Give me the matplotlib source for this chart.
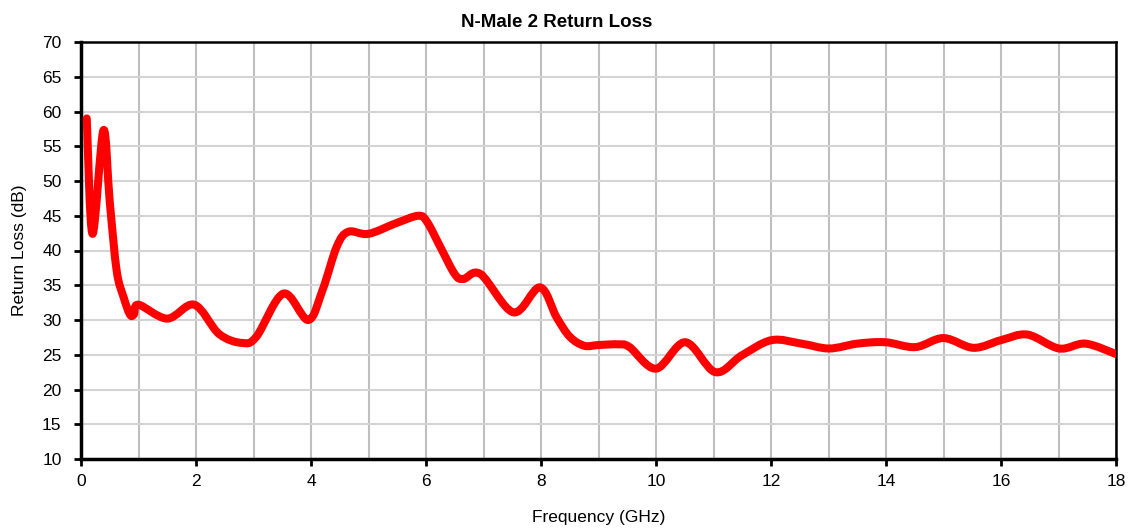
#!/usr/bin/env python3
"""Return loss plot for the N-Male 2 adapter."""

import matplotlib
matplotlib.use('Agg')
import matplotlib.pyplot as plt
from matplotlib.path import Path
from matplotlib.patches import PathPatch
import numpy as np

freq_ghz = [0.1, 0.2, 0.39, 0.5, 0.62, 0.74, 0.85, 0.92, 1.0,
            1.5, 1.97, 2.4, 2.8, 3.05, 3.52, 3.95, 4.2, 4.45, 4.65,
            5.0, 5.5, 5.87, 6.02, 6.25, 6.5, 6.65, 6.95, 7.52, 7.98,
            8.27, 8.5, 8.75, 9.0, 9.35, 9.54, 10.0, 10.51, 11.03, 11.49,
            12.01, 12.53, 13.01, 13.5, 13.99, 14.51, 15.0, 15.52, 16.0, 16.46,
            17.01, 17.47, 18.0]
return_loss_db = [59.0, 42.4, 57.3, 47.0, 37.1, 33.3, 30.8, 30.8, 32.2,
                  30.2, 32.2, 28.0, 26.7, 27.6, 33.8, 30.0, 34.3, 40.6, 42.7,
                  42.4, 44.0, 45.0, 44.1, 40.5, 36.6, 35.9, 36.6, 31.1, 34.7,
                  30.4, 27.6, 26.3, 26.4, 26.5, 26.1, 23.0, 26.8, 22.5, 24.9,
                  27.1, 26.6, 25.9, 26.6, 26.8, 26.1, 27.4, 26.0, 27.1, 27.9,
                  25.9, 26.6, 25.1]

x_ticks = [0, 2, 4, 6, 8, 10, 12, 14, 16, 18]
y_ticks = [10, 15, 20, 25, 30, 35, 40, 45, 50, 55, 60, 65, 70]


def smooth_path(xs, ys):
    """Excel style smoothed line: bezier segments through every point."""
    pts = np.column_stack([xs, ys])
    n = len(pts)
    verts = [pts[0]]
    codes = [Path.MOVETO]
    for i in range(n - 1):
        p0 = pts[max(i - 1, 0)]
        p1 = pts[i]
        p2 = pts[i + 1]
        p3 = pts[min(i + 2, n - 1)]
        verts += [p1 + (p2 - p0) / 6, p2 - (p3 - p1) / 6, p2]
        codes += [Path.CURVE4] * 3
    return Path(verts, codes)


plt.rcParams['font.family'] = ['Liberation Sans', 'DejaVu Sans']

fig = plt.figure(figsize=(11.3, 5.29), dpi=100)
ax = fig.add_axes([81 / 1130, 1 - 459 / 529, 1035 / 1130, 417 / 529])

curve = PathPatch(smooth_path(freq_ghz, return_loss_db), facecolor='none',
                  edgecolor='#ff0000', linewidth=5.8, joinstyle='round',
                  capstyle='round', transform=ax.transData, zorder=3)
ax.add_patch(curve)

ax.set_xlim(0, 18)
ax.set_ylim(10, 70)
ax.set_xticks(x_ticks)
ax.set_xticks(np.arange(0, 19, 1), minor=True)
ax.set_yticks(y_ticks)

ax.grid(which='both', axis='x', color='#bfbfbf', linewidth=1.5)
ax.grid(which='major', axis='y', color='#d4d4d4', linewidth=1.5)
ax.set_axisbelow(True)

ax.tick_params(axis='both', which='major', direction='out', length=5,
               width=2, labelsize=12.5, colors='black')
ax.tick_params(axis='x', which='minor', length=0)
ax.tick_params(axis='x', pad=6)
ax.tick_params(axis='y', pad=9)

for side in ['left', 'bottom']:
    ax.spines[side].set_linewidth(2.5)
for side in ['top', 'right']:
    ax.spines[side].set_linewidth(1.8)

ax.set_title('N-Male 2 Return Loss', fontsize=13.5, fontweight='bold',
             pad=10.5, x=0.46)
ax.set_xlabel('Frequency (GHz)', fontsize=12.5, labelpad=15)
ax.set_ylabel('Return Loss (dB)', fontsize=12.5, labelpad=11)

fig.savefig('out.png', dpi=100)
